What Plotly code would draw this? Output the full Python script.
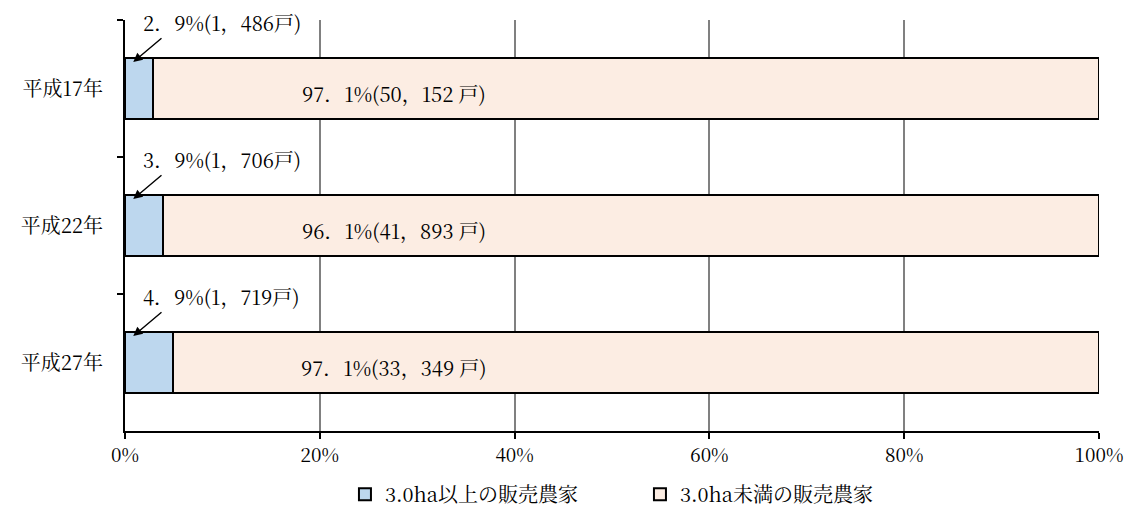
import plotly.graph_objects as go

# Farm households by operated area (counts), shown as 100% stacked bars
years = ["平成17年", "平成22年", "平成27年"]
large_farms = [1486, 1706, 1719]        # 3.0ha以上の販売農家
small_farms = [50152, 41893, 33349]     # 3.0ha未満の販売農家
large_pct_labels = ["2.9", "3.9", "4.9"]
small_pct_labels = ["97.1", "96.1", "97.1"]
x_ticks = [0, 20, 40, 60, 80, 100]
x_tick_labels = ["0%", "20%", "40%", "60%", "80%", "100%"]

FONT = "Noto Serif CJK JP, Noto Sans CJK JP, Liberation Serif"
BLUE = "#BDD7EE"
PEACH = "#FCEDE3"

fig = go.Figure()
fig.add_trace(go.Bar(
    y=years, x=large_farms, orientation="h", name="3.0ha以上の販売農家",
    marker=dict(color=BLUE, line=dict(color="black", width=2)),
    hoverinfo="skip",
))
fig.add_trace(go.Bar(
    y=years, x=small_farms, orientation="h", name="3.0ha未満の販売農家",
    marker=dict(color=PEACH, line=dict(color="black", width=2)),
    hoverinfo="skip",
))

def fmt(n):
    return f"{n:,}".replace(",", "，")

annotations = []
for i, yr in enumerate(years):
    # callout for the small segment, with an arrow pointing at it
    annotations.append(dict(
        x=1.6, y=i - 0.485, xref="x", yref="y", xanchor="left", yanchor="middle",
        text=f"{large_pct_labels[i].replace('.', '．')}%({fmt(large_farms[i])}戸)",
        showarrow=False, font=dict(family=FONT, size=20, color="black"),
    ))
    annotations.append(dict(
        x=0.85, y=i - 0.193, xref="x", yref="y",
        ax=3.9, ay=i - 0.376, axref="x", ayref="y",
        text="", showarrow=True, arrowhead=2, arrowsize=1.3, arrowwidth=1.4,
        arrowcolor="black",
    ))
    # label inside the large segment
    annotations.append(dict(
        x=27.6, y=i + 0.035, xref="x", yref="y", xanchor="center", yanchor="middle",
        text=f"{small_pct_labels[i].replace('.', '．')}%({fmt(small_farms[i])} 戸)",
        showarrow=False, font=dict(family=FONT, size=20, color="black"),
    ))

fig.update_layout(
    width=1131, height=510,
    margin=dict(l=125, r=32, t=20, b=79, autoexpand=False),
    paper_bgcolor="white", plot_bgcolor="white",
    barmode="stack", barnorm="percent", bargap=0.555,
    font=dict(family=FONT, size=20, color="black"),
    annotations=annotations,
    legend=dict(
        orientation="h", xref="container", yref="container",
        x=0.305, y=0.031, xanchor="left", yanchor="middle",
        font=dict(family=FONT, size=20), traceorder="normal",
        itemwidth=30, entrywidth=250,
    ),
    xaxis=dict(
        range=[0, 100], tickvals=x_ticks, ticktext=x_tick_labels,
        showgrid=True, gridcolor="#808080", gridwidth=1.5,
        showline=True, linecolor="black", linewidth=2,
        ticks="outside", ticklen=6, tickcolor="black", tickwidth=2,
        tickfont=dict(family=FONT, size=19), zeroline=False,
        automargin=False,
    ),
    yaxis=dict(
        range=[len(years) - 0.5, -0.5], showgrid=False,
        showline=True, linecolor="black", linewidth=2,
        ticks="outside", tickson="boundaries", ticklen=6,
        tickcolor="black", tickwidth=2,
        tickfont=dict(family=FONT, size=20), ticklabelstandoff=16,
        automargin=False,
    ),
)

fig.write_html("out.html")
